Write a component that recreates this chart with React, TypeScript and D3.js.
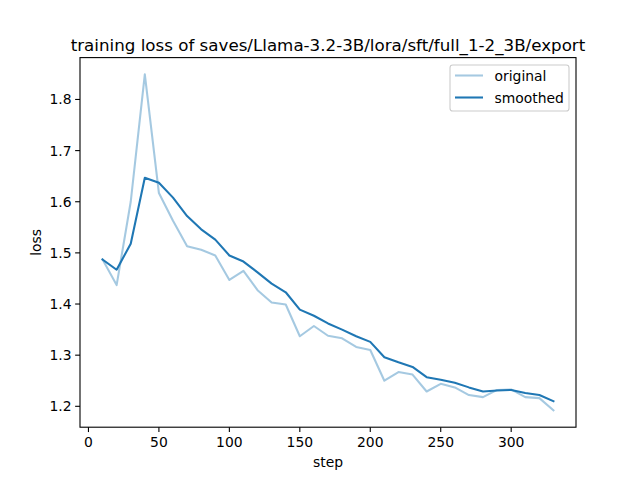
import React from "react";
import * as d3 from "d3";

const steps = [10, 20, 30, 40, 50, 60, 70, 80, 90, 100, 110, 120, 130, 140, 150, 160, 170, 180, 190, 200, 210, 220, 230, 240, 250, 260, 270, 280, 290, 300, 310, 320, 330];
const original = [1.487, 1.437, 1.60, 1.849, 1.617, 1.563, 1.513, 1.506, 1.495, 1.447, 1.465, 1.427, 1.403, 1.399, 1.337, 1.357, 1.338, 1.333, 1.316, 1.310, 1.250, 1.267, 1.262, 1.229, 1.244, 1.237, 1.222, 1.218, 1.232, 1.233, 1.218, 1.216, 1.192];
const smoothed = [1.487, 1.467, 1.518, 1.647, 1.637, 1.608, 1.572, 1.546, 1.526, 1.495, 1.483, 1.462, 1.440, 1.423, 1.389, 1.377, 1.362, 1.350, 1.337, 1.326, 1.296, 1.286, 1.277, 1.257, 1.252, 1.246, 1.237, 1.229, 1.231, 1.232, 1.226, 1.222, 1.210];
const xTicks = [0, 50, 100, 150, 200, 250, 300];
const yTicks = [1.2, 1.3, 1.4, 1.5, 1.6, 1.7, 1.8];
const seriesNames = ["original", "smoothed"];
const title = "training loss of saves/Llama-3.2-3B/lora/sft/full_1-2_3B/export";

export default function App() {
  const W = 640, H = 480;
  const L = 80, R = 576, T = 57.6, B = 427.2;
  const xmin = d3.min(steps)!, xmax = d3.max(steps)!;
  const allY = original.concat(smoothed);
  const ymin = d3.min(allY)!, ymax = d3.max(allY)!;
  const dx = (xmax - xmin) * 0.05, dy = (ymax - ymin) * 0.05;
  const x = d3.scaleLinear().domain([xmin - dx, xmax + dx]).range([L, R]);
  const y = d3.scaleLinear().domain([ymin - dy, ymax + dy]).range([B, T]);
  const line = d3.line<number>().x((_, i) => x(steps[i])).y((v) => y(v));
  const font = "DejaVu Sans, sans-serif";
  const color = "#1f77b4";
  const tickLen = 4.86;
  return (
    <svg width={W} height={H} style={{ position: "absolute", left: 0, top: 0, background: "#fff" }} fontFamily={font}>
      <rect x={0} y={0} width={W} height={H} fill="#fff" />
      <path d={line(original)!} fill="none" stroke={color} strokeOpacity={0.4} strokeWidth={2.08} strokeLinejoin="round" strokeLinecap="square" />
      <path d={line(smoothed)!} fill="none" stroke={color} strokeWidth={2.08} strokeLinejoin="round" strokeLinecap="square" />
      <rect x={L} y={T} width={R - L} height={B - T} fill="none" stroke="#000" strokeWidth={1.1} />
      {xTicks.map((t) => (
        <g key={"x" + t}>
          <line x1={x(t)} x2={x(t)} y1={B} y2={B + tickLen} stroke="#000" strokeWidth={1.1} />
          <text x={x(t)} y={B + tickLen + 3.5 + 11} fontSize={13.9} textAnchor="middle">{t}</text>
        </g>
      ))}
      {yTicks.map((t) => (
        <g key={"y" + t}>
          <line x1={L - tickLen} x2={L} y1={y(t)} y2={y(t)} stroke="#000" strokeWidth={1.1} />
          <text x={L - tickLen - 3.5} y={y(t)} dy="0.36em" fontSize={13.9} textAnchor="end">{t.toFixed(1)}</text>
        </g>
      ))}
      <text x={(L + R) / 2} y={51} fontSize={16.7} textAnchor="middle">{title}</text>
      <text x={(L + R) / 2} y={467} fontSize={13.9} textAnchor="middle">step</text>
      <text transform={`translate(41,${(T + B) / 2}) rotate(-90)`} fontSize={13.9} textAnchor="middle">loss</text>
      <g>
        <rect x={450} y={65} width={119} height={46} rx={2.8} fill="#fff" fillOpacity={0.8} stroke="#cccccc" strokeWidth={1.1} />
        {seriesNames.map((n, i) => (
          <g key={n}>
            <line x1={455} x2={483} y1={75.5 + i * 22} y2={75.5 + i * 22} stroke={color} strokeOpacity={i === 0 ? 0.4 : 1} strokeWidth={2.08} />
            <text x={494.5} y={75.5 + i * 22} dy="0.36em" fontSize={13.9}>{n}</text>
          </g>
        ))}
      </g>
    </svg>
  );
}
